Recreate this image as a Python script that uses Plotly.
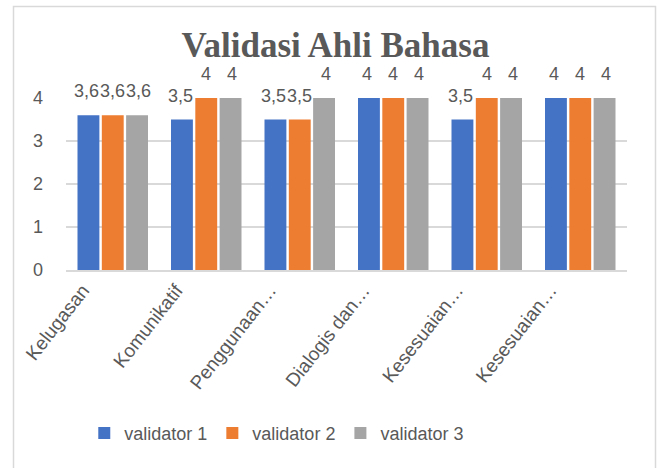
import plotly.graph_objects as go

categories = ["Kelugasan", "Komunikatif", "Penggunaan…", "Dialogis dan…", "Kesesuaian…", "Kesesuaian…"]
validator_1 = [3.6, 3.5, 3.5, 4, 3.5, 4]
validator_2 = [3.6, 4, 3.5, 4, 4, 4]
validator_3 = [3.6, 4, 4, 4, 4, 4]
series_names = ["validator 1", "validator 2", "validator 3"]
series_colors = ["#4472C4", "#ED7D31", "#A5A5A5"]
y_ticks = [0, 1, 2, 3, 4]

series = [validator_1, validator_2, validator_3]
xpos = list(range(len(categories)))

FONT = "Liberation Sans, Arial"
GRAY = "#595959"

fig = go.Figure()
for name, vals, col in zip(series_names, series, series_colors):
    fig.add_trace(go.Bar(
        x=xpos, y=vals, name=name,
        marker=dict(color=col, line=dict(width=0)),
        hoverinfo="skip",
    ))

def fmt(v):
    s = ("%g" % v)
    return s.replace(".", ",")

annotations = []
offsets = [-26, 0, 26]
for vals, dx in zip(series, offsets):
    for xi, v in zip(xpos, vals):
        annotations.append(dict(
            x=xi, y=v, xref="x", yref="y", text=fmt(v), showarrow=False,
            xshift=dx, yshift=24, font=dict(size=18, color=GRAY, family=FONT),
            xanchor="center", yanchor="middle",
        ))

fig.update_layout(
    width=659, height=468,
    paper_bgcolor="white", plot_bgcolor="white",
    margin=dict(l=66, r=32, t=98, b=198, autoexpand=False),
    barmode="group", bargap=0.22, bargroupgap=0.1,
    title=dict(text="<b>Validasi Ahli Bahasa</b>", x=0.509, xanchor="center",
               y=0.905, yanchor="middle", xref="container", yref="container",
               font=dict(family="Liberation Serif, DejaVu Serif, serif", size=35, color=GRAY)),
    xaxis=dict(
        tickmode="array", tickvals=xpos, ticktext=categories,
        tickangle=-52, tickfont=dict(size=19, color=GRAY, family=FONT),
        ticklabelshift=-30,
        showgrid=False, showline=True, linecolor="#D9D9D9", linewidth=1.5,
        ticks="", range=[-0.5, len(categories) - 0.5], fixedrange=True,
    ),
    yaxis=dict(
        range=[0, 4], tickvals=y_ticks, ticks="",
        tickfont=dict(size=18, color=GRAY, family=FONT),
        showgrid=True, gridcolor="#D9D9D9", gridwidth=1.5,
        zeroline=False, showline=False, ticklabelstandoff=22,
    ),
    legend=dict(orientation="h", x=0.42, xanchor="center", xref="container",
                y=-0.95, yanchor="middle",
                font=dict(size=18, color=GRAY, family=FONT),
                itemwidth=30, tracegroupgap=0),
    annotations=annotations,
    shapes=[dict(type="rect", xref="paper", yref="paper",
                 x0=(13.5 - 66) / 561, x1=(655.5 - 66) / 561,
                 y0=(270 - 475) / 172, y1=(270 - 6.5) / 172,
                 line=dict(color="#D9D9D9", width=1.5), layer="below")],
    separators=",.",
)

fig.write_html("out.html", config={"displayModeBar": False},
               post_script="document.body.style.margin='0';")
